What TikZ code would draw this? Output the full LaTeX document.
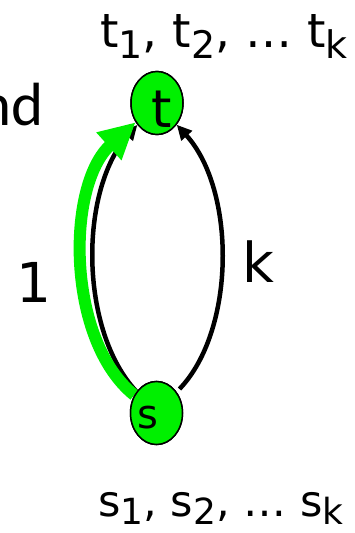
\documentclass[tikz,border=0pt]{standalone}
\usepackage{fontspec}
\setmainfont{DejaVu Sans}
\newfontfamily\calib{Carlito}
\usetikzlibrary{arrows.meta,shapes.geometric}
\definecolor{lime}{RGB}{0,240,0}
\newcommand{\lsub}[3]{\raisebox{-#3pt}{\fontsize{#1}{#1}\selectfont #2}}
\begin{document}
\begin{tikzpicture}[x=1pt,y=-1pt,
  vert/.style={ellipse,draw=black,line width=1.5pt,fill=lime,minimum width=52pt,minimum height=63pt,inner sep=0pt},
  blk/.style={draw=black,line width=4.5pt,-{Triangle[length=15pt,width=14pt]}},
  grn/.style={draw=lime,line width=12pt,-{Triangle[length=36pt,width=35pt]}},
  lbl/.style={inner sep=0pt,anchor=base}]
\useasboundingbox (0,0) rectangle (354,533);
\node[vert] (t) at (157,103) {};
\node[vert] (s) at (156.5,413) {};
\draw[blk] (s) .. controls (79,330) and (79,190) .. (t);
\draw[grn] (s) .. controls (66,340) and (66,185) .. (t);
\draw[blk,shorten <=4pt] (s) .. controls (236,330) and (236,190) .. (t);
\node[vert] at (t) {};
\node[vert] at (s) {};
\node[lbl,font=\fontsize{52}{52}\selectfont] (tt) at (162,127) {t};
\node[lbl,font=\fontsize{40}{40}\selectfont] (ss) at (147.5,428) {s};
\node[inner sep=0pt,anchor=base west,font=\fontsize{47}{47}\selectfont] (tl) at (100,47) {t\lsub{38}{1}{11}, t\lsub{38}{2}{11}, … t\lsub{38}{k}{11}};
\node[inner sep=0pt,anchor=base west,font=\fontsize{43}{43}\selectfont] (sl) at (98,516) {s\lsub{36}{1}{8}, s\lsub{36}{2}{8}, … s\lsub{36}{k}{8}};
\node[lbl,font=\fontsize{55}{55}\selectfont] (one) at (34,302) {1};
\node[lbl,font=\fontsize{55}{55}\selectfont] (kk) at (258,282) {k};
\node[inner sep=0pt,anchor=base east,font=\calib\fontsize{61}{61}\selectfont] (nd) at (44,125) {nd};
\end{tikzpicture}
\end{document}
